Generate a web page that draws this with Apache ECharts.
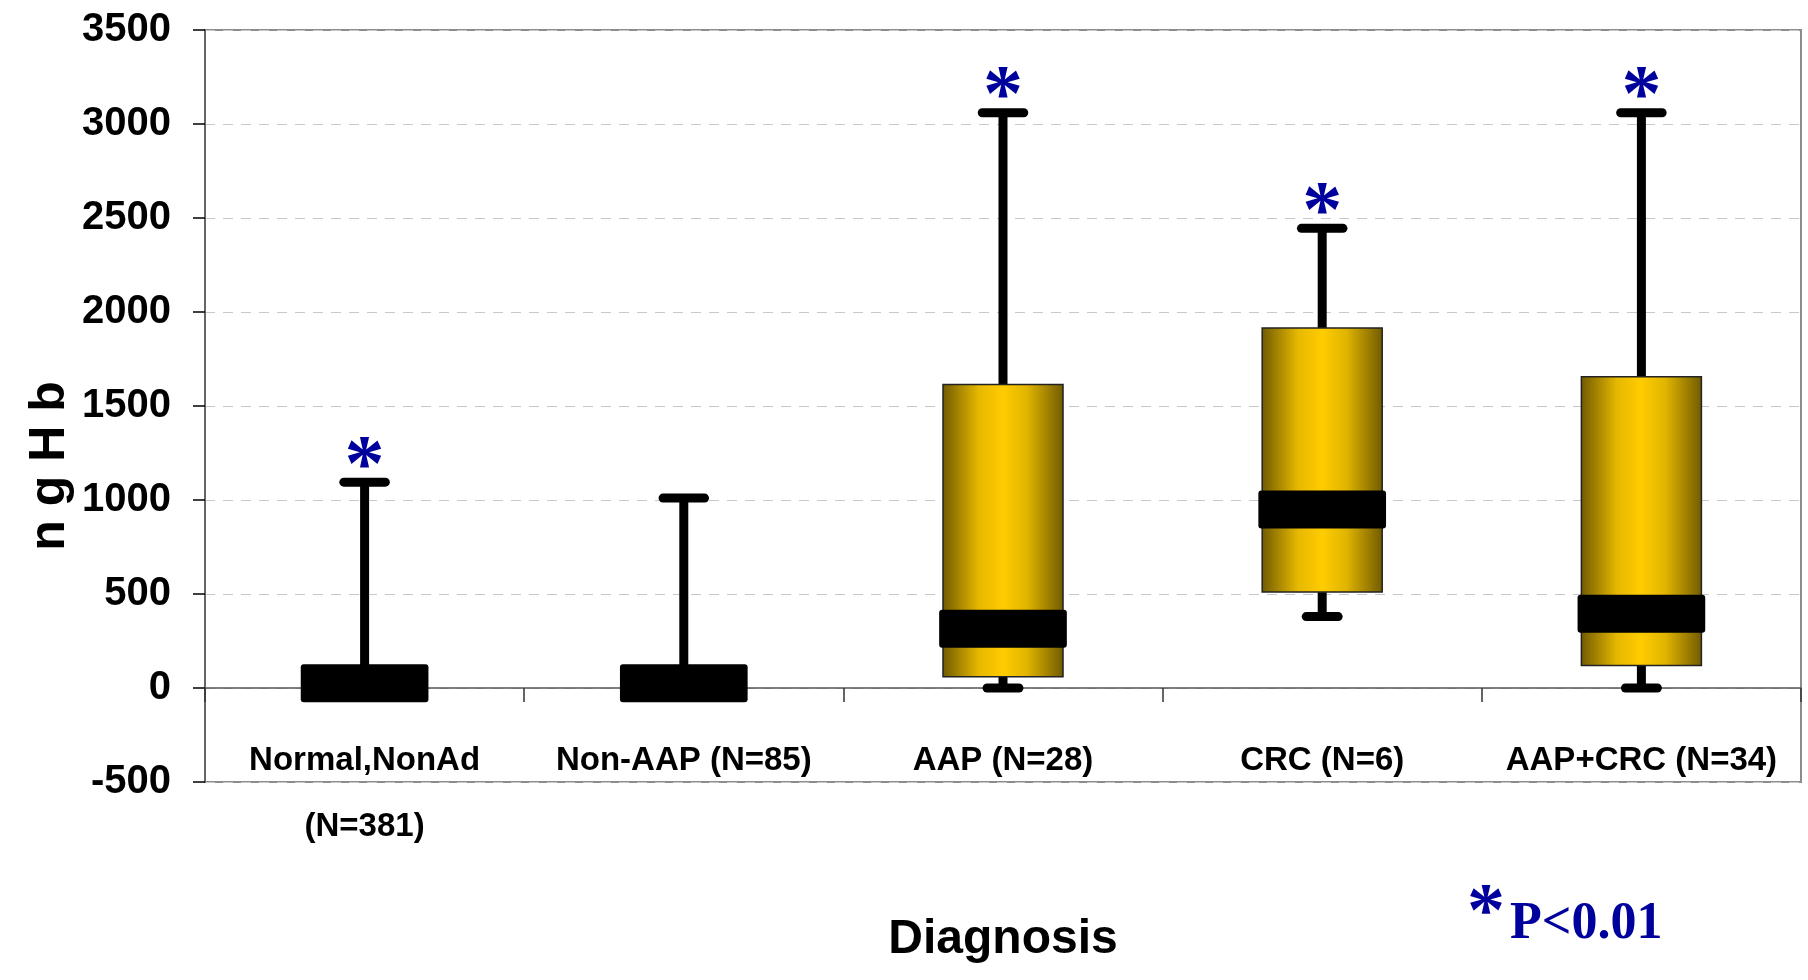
<!DOCTYPE html>
<html>
<head>
<meta charset="utf-8">
<script src="https://cdn.jsdelivr.net/npm/echarts@6/dist/echarts.min.js"></script>
<style>
html,body{margin:0;padding:0;background:#fff;}
#chart{width:1808px;height:980px;}
</style>
</head>
<body>
<div id="chart"></div>
<script>
// ---- data ----
const categories = ['Normal,NonAd\n(N=381)', 'Non-AAP (N=85)', 'AAP (N=28)', 'CRC (N=6)', 'AAP+CRC (N=34)'];
const whiskerLow  = [0,    0,    0,    380,  0];
const q1          = [20,   20,   60,   510,  120];
const median      = [25,   25,   315,  950,  395];
const q3          = [30,   30,   1615, 1915, 1655];
const whiskerHigh = [1095, 1010, 3060, 2445, 3060];
const significant = [true, false, true, true, true];
const yMin = -500, yMax = 3500, yStep = 500;

const SANS = "'Liberation Sans','Arial',sans-serif";
const SERIF = "'Liberation Serif','Times New Roman',serif";
const BLUE = '#00009c';

const boxData = categories.map((c, i) => [i, whiskerLow[i], q1[i], median[i], q3[i], whiskerHigh[i], significant[i] ? 1 : 0]);

const chart = echarts.init(document.getElementById('chart'));

function renderBox(params, api) {
  const i = api.value(0);
  const cw = api.size([1, 0])[0];
  const x = api.coord([i, 0])[0];
  const yLow = api.coord([i, api.value(1)])[1];
  const yQ1 = api.coord([i, api.value(2)])[1];
  const yMed = api.coord([i, api.value(3)])[1];
  const yQ3 = api.coord([i, api.value(4)])[1];
  const yHigh = api.coord([i, api.value(5)])[1];
  const sig = api.value(6);
  const boxW = cw * 0.376;
  const medW = cw * 0.40;
  const capW = cw * 0.13;
  const lowCapW = cw * 0.10;
  const children = [];
  const capStyle = { stroke: '#000', lineWidth: 9, lineCap: 'round' };
  children.push({ type: 'line', shape: { x1: x, y1: yQ3, x2: x, y2: yHigh }, style: { stroke: '#000', lineWidth: 9 } });
  children.push({ type: 'line', shape: { x1: x - capW / 2, y1: yHigh, x2: x + capW / 2, y2: yHigh }, style: capStyle });
  if (yLow - yQ1 > 1) {
    children.push({ type: 'line', shape: { x1: x, y1: yQ1, x2: x, y2: yLow }, style: { stroke: '#000', lineWidth: 9 } });
    children.push({ type: 'line', shape: { x1: x - lowCapW / 2, y1: yLow, x2: x + lowCapW / 2, y2: yLow }, style: capStyle });
  }
  if (yQ1 - yQ3 > 1) {
    children.push({
      type: 'rect',
      shape: { x: x - boxW / 2, y: yQ3, width: boxW, height: yQ1 - yQ3 },
      style: {
        fill: new echarts.graphic.LinearGradient(0, 0, 1, 0, [
          { offset: 0, color: '#705a00' },
          { offset: 0.3, color: '#e6b800' },
          { offset: 0.5, color: '#ffcc00' },
          { offset: 0.7, color: '#e0b400' },
          { offset: 1, color: '#705a00' }
        ]),
        stroke: '#222',
        lineWidth: 1.5
      }
    });
  }
  children.push({ type: 'rect', shape: { x: x - medW / 2, y: yMed - 19, width: medW, height: 38, r: 3 }, style: { fill: '#000' } });
  if (sig) {
    children.push({
      type: 'text',
      style: { text: '*', x: x, y: yHigh + 27, fill: BLUE, font: 'bold 80px ' + SERIF, align: 'center', verticalAlign: 'bottom' }
    });
  }
  return { type: 'group', children: children };
}

chart.setOption({
  animation: false,
  backgroundColor: '#fff',
  title: {
    text: '{a|*} {b|P<0.01}',
    left: 1462,
    top: 872,
    textStyle: {
      rich: {
        a: { fontSize: 76, fontFamily: SERIF, fontWeight: 'bold', color: BLUE, verticalAlign: 'top', padding: [0, 0, 20, 0] },
        b: { fontSize: 52, fontFamily: SERIF, fontWeight: 'bold', color: BLUE }
      }
    }
  },
  grid: { left: 205, right: 7, top: 30, bottom: 198, outerBoundsMode: 'none', containLabel: false, show: true, borderColor: '#8c8c8c', borderWidth: 2, backgroundColor: 'transparent' },
  xAxis: {
    type: 'category',
    data: categories,
    boundaryGap: true,
    axisLine: { onZero: true, lineStyle: { color: '#555', width: 1.5 } },
    axisTick: { show: true, interval: 0, length: 14, lineStyle: { color: '#333', width: 1.5 } },
    axisLabel: { interval: 0, margin: -54, fontSize: 33, lineHeight: 66, fontWeight: 'bold', fontFamily: SANS, color: '#000' },
    splitLine: { show: false },
    name: 'Diagnosis',
    nameLocation: 'middle',
    nameGap: 134,
    nameMoveOverlap: false,
    nameTextStyle: { fontSize: 48, fontWeight: 'bold', fontFamily: SANS, color: '#000' }
  },
  yAxis: {
    type: 'value',
    min: yMin,
    max: yMax,
    interval: yStep,
    axisLine: { show: true, lineStyle: { color: '#666', width: 2 } },
    axisTick: { show: true, length: 12, lineStyle: { color: '#000', width: 1.5 } },
    axisLabel: { margin: 34, fontSize: 40, fontWeight: 'bold', fontFamily: SANS, color: '#000', formatter: v => String(v) },
    splitLine: { show: true, lineStyle: { color: '#c8c8c8', type: [10, 8], width: 1.2 } },
    name: 'n g H b',
    nameLocation: 'middle',
    nameRotate: 90,
    nameGap: 130,
    nameMoveOverlap: false,
    nameTextStyle: { fontSize: 50, fontWeight: 'bold', fontFamily: SANS, color: '#000', padding: [0, 120, 0, 0] }
  },
  series: [{
    type: 'custom',
    renderItem: renderBox,
    data: boxData,
    encode: { x: 0, y: [1, 5] },
    z: 5
  }]
});
</script>
</body>
</html>
